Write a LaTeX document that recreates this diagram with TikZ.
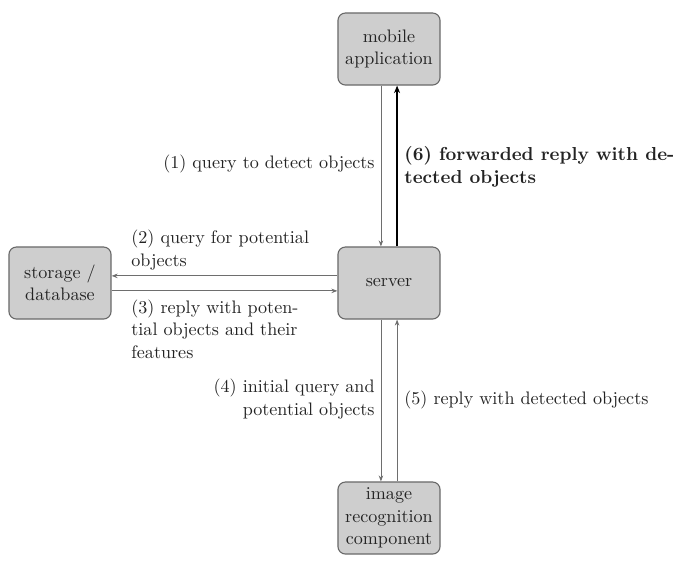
\documentclass[tikz,border=0pt]{standalone}
\usetikzlibrary{arrows.meta}
\definecolor{boxfill}{RGB}{206,206,206}
\definecolor{boxline}{RGB}{105,105,105}
\definecolor{thinline}{RGB}{110,110,110}
\definecolor{txt}{RGB}{35,35,35}
\newcommand{\lblfont}{\fontsize{9.65}{12}\selectfont}
\tikzset{
  px/.style={x=0.533pt,y=-0.533pt},
  comp/.style={draw=boxline, fill=boxfill, rounded corners=4pt, line width=0.6pt,
    minimum width=54.4pt, minimum height=38.4pt, inner sep=1pt, align=center,
    text=txt, font=\lblfont},
  lbl/.style={inner sep=0pt, text=txt, font=\lblfont},
  thinarrow/.style={draw=thinline, line width=0.45pt, -{Stealth[length=3.2pt,width=2.4pt]}},
  thickarrow/.style={draw=black, line width=1.0pt, -{Stealth[length=4pt,width=3.2pt]}}
}
\begin{document}
\begin{tikzpicture}[px]
\useasboundingbox (0,0) rectangle (700,561);
\node[comp] (mob) at (389,49) {mobile\\application};
\node[comp] (srv) at (389,283) {server};
\node[comp] (db) at (60,283) {storage /\\database};
\node[comp] (img) at (389,518) {image\\recognition\\component};

\draw[thinarrow] ([xshift=-4.3pt]mob.south) -- ([xshift=-4.3pt]srv.north);
\draw[thickarrow] ([xshift=4.3pt]srv.north) -- ([xshift=4.3pt]mob.south);
\draw[thinarrow] ([yshift=3.8pt]srv.west) -- ([yshift=3.8pt]db.east);
\draw[thinarrow] ([yshift=-4.2pt]db.east) -- ([yshift=-4.2pt]srv.west);
\draw[thinarrow] ([xshift=-4.3pt]srv.south) -- ([xshift=-4.3pt]img.north);
\draw[thinarrow] ([xshift=4.3pt]img.north) -- ([xshift=4.3pt]srv.south);

\node[lbl, anchor=east] (l1) at (375,164) {(1) query to detect objects};
\node[lbl, anchor=west, align=left, font=\normalsize\bfseries] (l6) at (404,167) {(6) forwarded reply with de-\\tected objects};
\node[lbl, anchor=west, align=left] (l2) at (131,250) {(2) query for potential\\objects};
\node[lbl, anchor=west, align=left] (l3) at (131,329) {(3) reply with poten-\\tial objects and their\\features};
\node[lbl, anchor=east, align=right] (l4) at (375,399) {(4) initial query and\\potential objects};
\node[lbl, anchor=west] (l5) at (404,400) {(5) reply with detected objects};
\end{tikzpicture}
\end{document}
